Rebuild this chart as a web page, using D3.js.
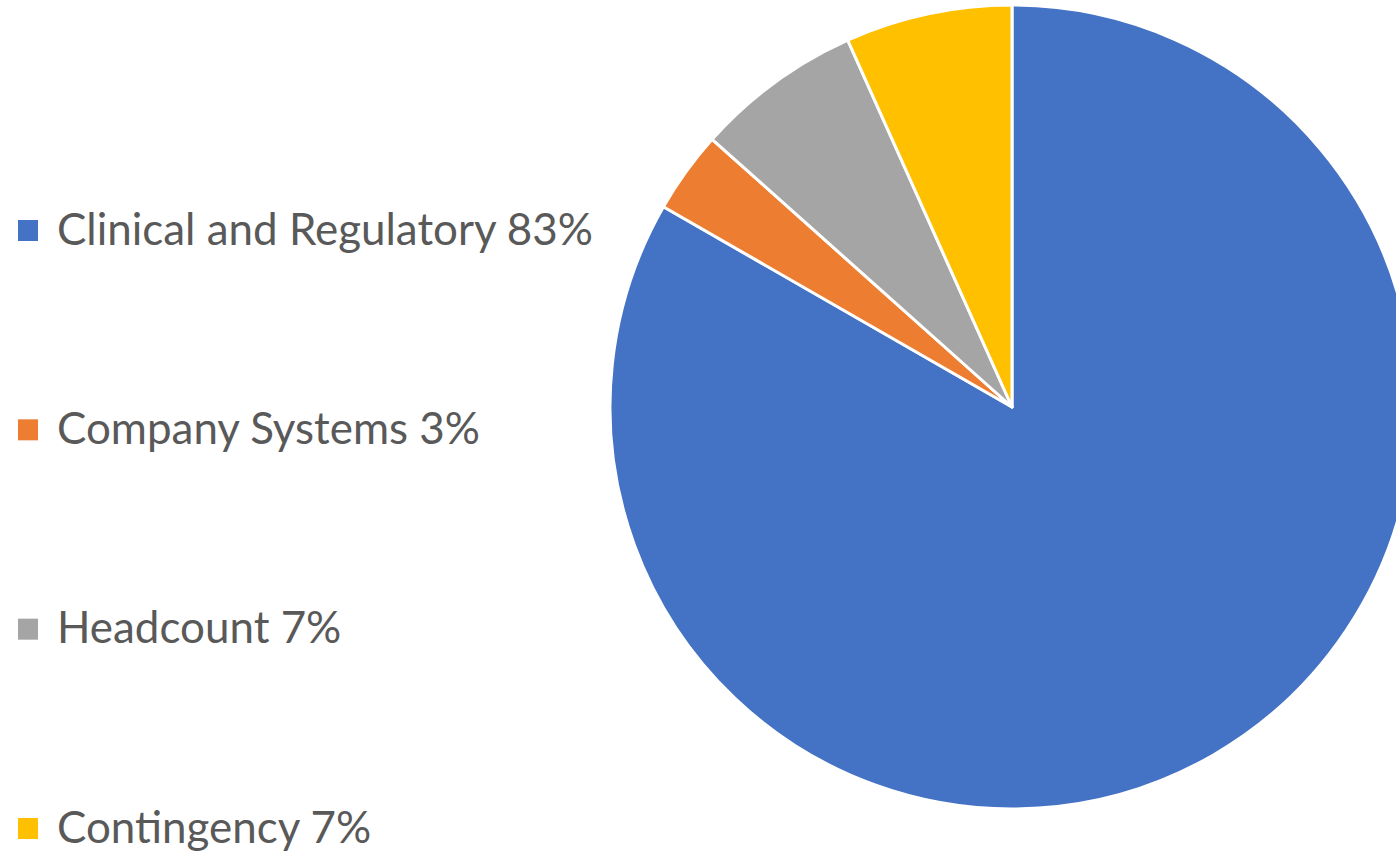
<!DOCTYPE html>
<html>
<head>
<meta charset="UTF-8">
<script src="https://d3js.org/d3.v7.min.js"></script>
<style>
  body { margin: 0; background: #fff; overflow: hidden; }
</style>
</head>
<body>
<div id="chart"></div>
<script>
// data
var categories = ["Clinical and Regulatory", "Company Systems", "Headcount", "Contingency"];
var shares = [83.3, 3.3, 6.7, 6.7];
var pctLabels = ["83%", "3%", "7%", "7%"];
var colors = ["#4472C4", "#ED7D31", "#A5A5A5", "#FFC000"];

var width = 1396, height = 852;
var cx = 1012, cy = 407, radius = 402;

var svg = d3.select("#chart").append("svg")
  .attr("width", width)
  .attr("height", height);

var pie = d3.pie().sort(null).value(function(d) { return d; });
var arc = d3.arc().innerRadius(0).outerRadius(radius);

var g = svg.append("g").attr("transform", "translate(" + cx + "," + cy + ")");
g.selectAll("path")
  .data(pie(shares))
  .enter().append("path")
  .attr("d", arc)
  .attr("fill", function(d, i) { return colors[i]; })
  .attr("stroke", "#fff")
  .attr("stroke-width", 3)
  .attr("stroke-linejoin", "round");

// legend
var legendY = d3.scalePoint().domain(categories).range([230, 828]);
var legend = svg.append("g");
var rows = legend.selectAll("g")
  .data(categories)
  .enter().append("g")
  .attr("transform", function(d) { return "translate(0," + legendY(d) + ")"; });

rows.append("rect")
  .attr("x", 18).attr("y", -10)
  .attr("width", 20).attr("height", 21)
  .attr("fill", function(d, i) { return colors[i]; });

var labels = rows.append("text")
  .attr("x", 57)
  .attr("dy", "0.33em")
  .style("font-family", "Lato, 'Open Sans', sans-serif")
  .style("font-size", "40px")
  .attr("fill", "#595959")
  .text(function(d, i) { return d + " " + pctLabels[i]; });

// size text so the first label spans about 536px, like the reference
var w0 = labels.node().getComputedTextLength();
var fs = 40 * 536 / w0;
labels.style("font-size", fs + "px");
</script>
</body>
</html>
